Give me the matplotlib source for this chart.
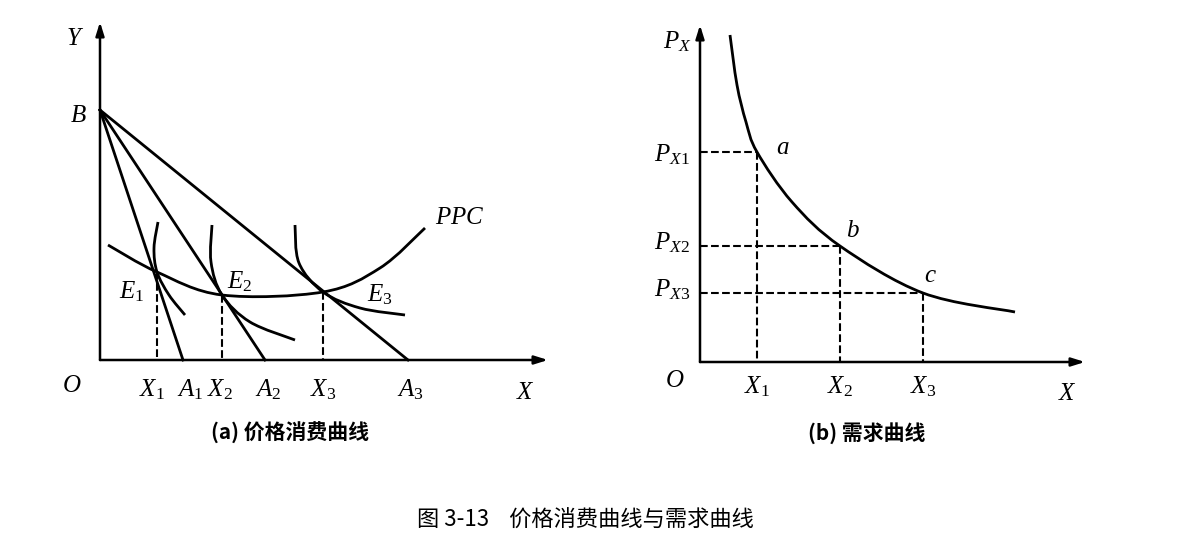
import numpy as np
import matplotlib.pyplot as plt
from matplotlib.path import Path
from matplotlib.patches import PathPatch

plt.rcParams['mathtext.fontset'] = 'custom'
plt.rcParams['mathtext.it'] = 'Liberation Serif:italic'
plt.rcParams['mathtext.rm'] = 'Liberation Serif'
CJK = ['Noto Sans CJK SC', 'DejaVu Sans']

# --- panel (a): price consumption curve (picture coordinates) ---
origin_a = (100, 360)
point_B = (100, 110)
budget_ends = [183, 265, 408]            # A1, A2, A3 on X axis
eq_pts = [(157, 272), (222, 295), (323, 292)]   # E1, E2, E3
ppc_pts = [(108, 245), (157, 272), (222, 295), (323, 292), (380, 268), (425, 228)]
ic_curves = [
    [(158, 222), (154, 248), (157, 272), (169, 295), (185, 315)],
    [(212, 225), (211, 262), (222, 295), (250, 322), (295, 340)],
    [(295, 225), (299, 263), (323, 292), (360, 308), (405, 315)],
]

# --- panel (b): demand curve ---
origin_b = (700, 362)
demand_pts = [(730, 35), (737, 85), (746, 122), (757, 152), (792, 202),
              (840, 246), (923, 293), (1015, 312)]
demand_marks = [(757, 152), (840, 246), (923, 293)]  # a, b, c


def smooth(pts):
    p = np.array(pts, float)
    p = np.vstack([p[0], p, p[-1]])
    verts = [p[1]]
    codes = [Path.MOVETO]
    for i in range(1, len(p) - 2):
        c1 = p[i] + (p[i + 1] - p[i - 1]) / 6
        c2 = p[i + 1] - (p[i + 2] - p[i]) / 6
        verts += [c1, c2, p[i + 1]]
        codes += [Path.CURVE4] * 3
    return Path(verts, codes)


def curve(ax, pts):
    ax.add_patch(PathPatch(smooth(pts), fill=False, lw=2.0, color='black'))


def axis_arrow(ax, start, end):
    ax.annotate('', xy=end, xytext=start,
                arrowprops=dict(arrowstyle='-|>,head_length=0.8,head_width=0.25',
                                lw=1.8, color='black', shrinkA=0, shrinkB=0))


def lab(ax, x, y, s, size=18):
    ax.text(x, y, s, fontsize=size, ha='center', va='center')


fig = plt.figure(figsize=(12.04, 5.46), dpi=100)
ax = fig.add_axes([0, 0, 1, 1])
ax.set_xlim(0, 1204)
ax.set_ylim(546, 0)
ax.axis('off')

# panel a
axis_arrow(ax, origin_a, (100, 22))
axis_arrow(ax, origin_a, (548, 360))
for xa in budget_ends:
    ax.plot([point_B[0], xa], [point_B[1], origin_a[1]], color='black', lw=2.0)
curve(ax, ppc_pts)
for ic in ic_curves:
    curve(ax, ic)
for ex, ey in eq_pts:
    ax.plot([ex, ex], [ey, origin_a[1]], ls='--', color='black', lw=1.5)

lab(ax, 75, 38, '$Y$')
lab(ax, 78, 115, '$B$')
lab(ax, 72, 385, '$O$')
lab(ax, 525, 392, '$X$')
lab(ax, 460, 217, '$PPC$')
lab(ax, 132, 292, r'$E_{\mathrm{1}}$')
lab(ax, 240, 282, r'$E_{\mathrm{2}}$')
lab(ax, 380, 295, r'$E_{\mathrm{3}}$')
for x, s in zip([152, 190, 220, 268, 323, 410],
                ['X_{\\mathrm{1}}', 'A_{\\mathrm{1}}', 'X_{\\mathrm{2}}', 'A_{\\mathrm{2}}',
                 'X_{\\mathrm{3}}', 'A_{\\mathrm{3}}']):
    lab(ax, x, 390, '$' + s + '$')
ax.text(290, 433, '(a) 价格消费曲线', fontsize=15, fontweight='bold',
        ha='center', va='center', family=CJK)

# panel b
axis_arrow(ax, origin_b, (700, 25))
axis_arrow(ax, origin_b, (1085, 362))
curve(ax, demand_pts)
for mx, my in demand_marks:
    ax.plot([origin_b[0], mx], [my, my], ls='--', color='black', lw=1.5)
    ax.plot([mx, mx], [my, origin_b[1]], ls='--', color='black', lw=1.5)

lab(ax, 677, 42, r'$P_{X}$')
lab(ax, 672, 155, r'$P_{X\mathrm{1}}$')
lab(ax, 672, 243, r'$P_{X\mathrm{2}}$')
lab(ax, 672, 290, r'$P_{X\mathrm{3}}$')
lab(ax, 783, 147, '$a$')
lab(ax, 853, 230, '$b$')
lab(ax, 930, 275, '$c$')
lab(ax, 675, 380, '$O$')
lab(ax, 1067, 393, '$X$')
for x, s in zip([757, 840, 923], ['1', '2', '3']):
    lab(ax, x, 387, r'$X_{\mathrm{' + s + '}}$')
ax.text(867, 433, '(b) 需求曲线', fontsize=15, fontweight='bold',
        ha='center', va='center', family=CJK)

ax.text(585, 520, '图 3-13    价格消费曲线与需求曲线', fontsize=16,
        ha='center', va='center', family=CJK)

fig.savefig('out.png', dpi=100)
